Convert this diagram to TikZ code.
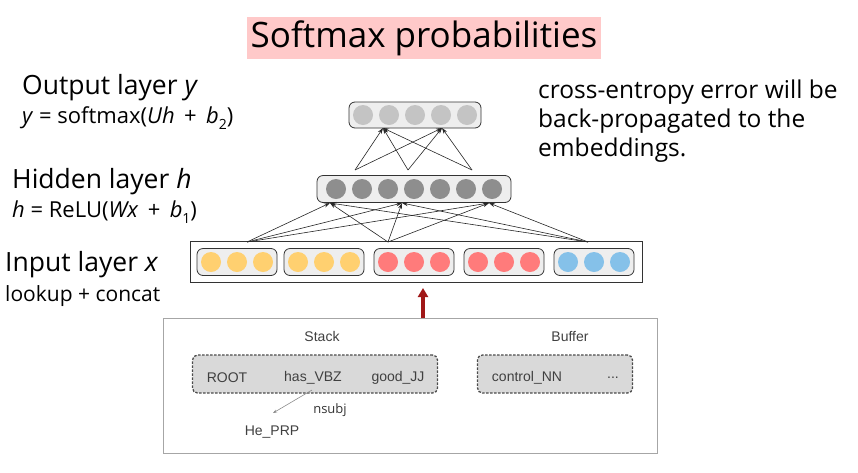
\documentclass[tikz,border=0pt]{standalone}
\usepackage{fontspec}
\setmainfont{Open Sans}
\newfontfamily\smallsans{Liberation Sans}
\usetikzlibrary{arrows.meta}
\definecolor{yel}{HTML}{FFD070}
\definecolor{rd}{HTML}{FF7B7B}
\definecolor{bl}{HTML}{85C1E9}
\definecolor{outc}{HTML}{C4C4C4}
\definecolor{hidc}{HTML}{8E8E8E}
\definecolor{pinkbg}{HTML}{FFC9C9}
\definecolor{boxbg}{HTML}{EEEEEE}
\definecolor{darkred}{HTML}{A01818}
\newcommand{\mysub}[1]{\raisebox{-0.25em}{\fontsize{14}{14}\selectfont #1}}
\begin{document}
\begin{tikzpicture}[x=1pt,y=-1pt,
  vec/.style={draw=black!80,line width=0.8pt,rounded corners=6pt,fill=boxbg,inner sep=0pt},
  neu/.style={circle,inner sep=0pt,minimum size=20pt},
  con/.style={-{Stealth[length=6pt,width=4pt]},line width=0.6pt,black!85},
  lbl/.style={anchor=west,inner sep=0pt},
  dbox/.style={draw=black!70,dash pattern=on 2.5pt off 1.5pt,line width=1.3pt,rounded corners=5pt,fill=black!15,inner sep=0pt},
  st/.style={font=\smallsans\fontsize{14}{16}\selectfont,text=black!75,inner sep=0pt}]
\useasboundingbox (0,0) rectangle (858,472);
% title
\node[fill=pinkbg,minimum width=352pt,minimum height=40pt,font=\fontsize{35}{38}\selectfont] (title) at (424,38) {Softmax probabilities};
% left labels
\node[lbl,font=\fontsize{26.5}{30}\selectfont] (ol) at (22,88) {Output layer \textit{y}};
\node[lbl,font=\fontsize{22}{24}\selectfont] (of) at (22,118) {\textit{y} = softmax(\textit{Uh}\ \,+\ \,\textit{b}\mysub{2})};
\node[lbl,font=\fontsize{26.5}{30}\selectfont] (hl) at (12,182) {Hidden layer \textit{h}};
\node[lbl,font=\fontsize{22}{24}\selectfont] (hf) at (12,212) {\textit{h} = ReLU(\textit{Wx}\ \,+\ \,\textit{b}\mysub{1})};
\node[lbl,font=\fontsize{26.5}{30}\selectfont] (il) at (5,265) {Input layer \textit{x}};
\node[lbl,font=\fontsize{21}{24}\selectfont] (ic) at (5,296) {lookup + concat};
\node[lbl,font=\fontsize{24.5}{29}\selectfont,align=left,anchor=north west] (ce) at (538,80) {cross-entropy error will be\\back-propagated to the\\embeddings.};
% output layer
\node[vec,minimum width=132pt,minimum height=26pt] (ob) at (415,115) {};
\foreach \i/\x in {1/363,2/389,3/415,4/441,5/467} \node[neu,fill=outc] (o\i) at (\x,115) {};
% hidden layer
\node[vec,minimum width=194pt,minimum height=27pt] (hb) at (414,189) {};
\foreach \i/\x in {1/336,2/362,3/388,4/414,5/440,6/466,7/492} \node[neu,fill=hidc] (h\i) at (\x,189) {};
% input layer
\node[draw=black!80,line width=0.8pt,minimum width=452pt,minimum height=41pt,inner sep=0pt] (ib) at (416,262) {};
\foreach \g/\c/\gx in {1/yel/237,2/yel/324,3/rd/414,4/rd/504,5/bl/594}{
  \node[vec,minimum width=80pt,minimum height=27pt] (g\g) at (\gx,262) {};
  \foreach \k/\dx in {1/-26,2/0,3/26} \node[neu,fill=\c] (n\g\k) at (\gx+\dx,262) {};
}
% connectors input -> hidden
\coordinate (s1) at (247,242); \coordinate (s2) at (388,242); \coordinate (s3) at (588,242);
\coordinate (t1) at (330,203); \coordinate (t2) at (402,203); \coordinate (t3) at (489,203);
\foreach \s in {s1,s2,s3} \foreach \t in {t1,t2,t3} \draw[con] (\s) -- (\t);
% hidden -> output
\coordinate (u1) at (355,170); \coordinate (u2) at (408,170); \coordinate (u3) at (472,170);
\coordinate (v1) at (383,128); \coordinate (v2) at (442,128);
\foreach \s in {u1,u2,u3} \foreach \t in {v1,v2} \draw[con] (\s) -- (\t);
% bottom configuration
\node[draw=black!35,line width=1pt,minimum width=494pt,minimum height=135pt,inner sep=0pt] (cfg) at (410,386) {};
\draw[-{Triangle[length=9pt,width=10pt]},line width=3.5pt,darkred] (cfg.north -| 423,0) -- (423,288);
\node[st] (stk) at (322,336) {Stack};
\node[st] (buf) at (570,336) {Buffer};
\node[dbox,minimum width=245pt,minimum height=38pt] (sbox) at (315,374) {};
\node[dbox,minimum width=155pt,minimum height=38pt] (bbox) at (555,374) {};
\node[st] (root) at (227,378) {ROOT};
\node[st] (has) at (313,378) {has\_VBZ};
\node[st] (good) at (398,378) {good\_JJ};
\node[st] (ctrl) at (527,378) {control\_NN};
\node[st] (dots) at (613,378) {...};
\node[font=\fontsize{13}{15}\selectfont,text=black!80,inner sep=0pt] (ns) at (330,410) {nsubj};
\node[st] (he) at (272,432) {He\_PRP};
\coordinate (arrEnd) at (273,413);
\draw[-{Stealth[length=4pt,width=3pt]},black!45,line width=0.6pt] (312,390) -- (arrEnd);
\end{tikzpicture}
\end{document}
